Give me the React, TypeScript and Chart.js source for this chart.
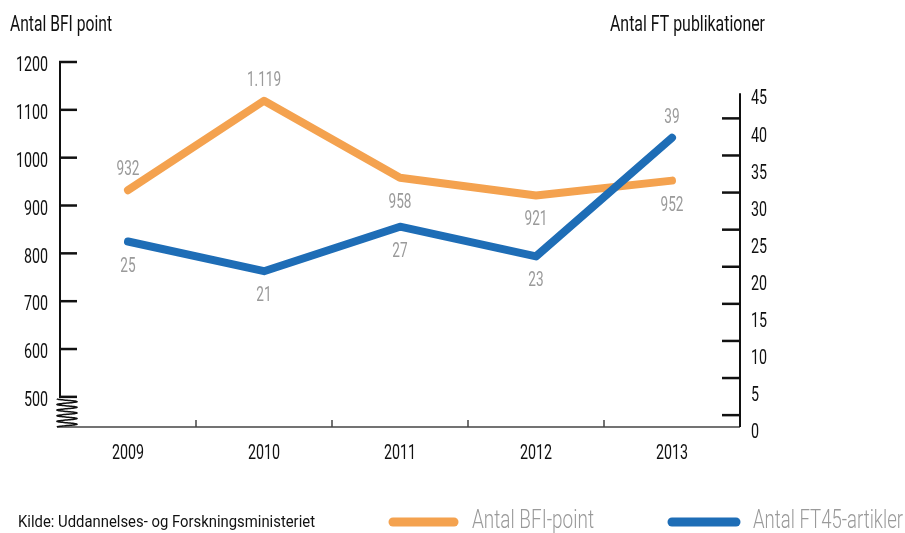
import { useEffect, useRef } from 'react';
import { Chart, registerables } from 'chart.js';

Chart.register(...registerables);

const years = ['2009', '2010', '2011', '2012', '2013'];
const bfiPoints = [932, 1119, 958, 921, 952];
const ft45Articles = [25, 21, 27, 23, 39];
const bfiValueLabels = ['932', '1.119', '958', '921', '952'];
const ftValueLabels = ['25', '21', '27', '23', '39'];
const bfiLabelSide = ['above', 'above', 'below', 'below', 'below'];
const ftLabelSide = ['below', 'below', 'below', 'below', 'above'];
const bfiTicks = [500, 600, 700, 800, 900, 1000, 1100, 1200];
const ftTicks = [0, 5, 10, 15, 20, 25, 30, 35, 40, 45];

const FONT = 'Roboto, "Liberation Sans", sans-serif';
const ORANGE = '#F4A24F';
const BLUE = '#1E6DB6';
const GREY = '#9a9a9a';
const SX = 0.68;

function drawText(
  ctx: CanvasRenderingContext2D,
  str: string,
  x: number,
  y: number,
  size: number,
  align: CanvasTextAlign,
  color: string,
  opts: { width?: number; weight?: number } = {}
) {
  ctx.save();
  ctx.font = `${opts.weight || 400} ${size}px ${FONT}`;
  ctx.fillStyle = color;
  ctx.textBaseline = 'middle';
  ctx.textAlign = align;
  let sx = SX;
  if (opts.width) {
    const w = ctx.measureText(str).width;
    sx = opts.width / w;
  }
  ctx.translate(x, y);
  ctx.scale(sx, 1);
  ctx.fillText(str, 0, 0);
  ctx.restore();
}

const decorPlugin = {
  id: 'decor',
  beforeDatasetsDraw(chart: any) {
    const ctx = chart.ctx;
    const yL = chart.scales.yL;
    const yR = chart.scales.yR;
    const x = chart.scales.x;
    const area = chart.chartArea;
    const bottom = area.bottom;
    ctx.save();
    // bottom axis
    ctx.strokeStyle = '#444';
    ctx.lineWidth = 1.5;
    ctx.beginPath();
    ctx.moveTo(area.left - 3, bottom);
    ctx.lineTo(area.right, bottom);
    ctx.stroke();
    for (let i = 0; i < years.length - 1; i++) {
      const bx = (x.getPixelForValue(i) + x.getPixelForValue(i + 1)) / 2;
      ctx.beginPath();
      ctx.moveTo(bx, bottom);
      ctx.lineTo(bx, bottom - 7);
      ctx.stroke();
    }
    // left axis
    ctx.strokeStyle = '#111';
    ctx.lineWidth = 2;
    const top500 = yL.getPixelForValue(500);
    ctx.beginPath();
    ctx.moveTo(area.left, yL.getPixelForValue(1200));
    ctx.lineTo(area.left, top500);
    ctx.stroke();
    ctx.lineWidth = 2.5;
    bfiTicks.forEach((v) => {
      const ty = yL.getPixelForValue(v);
      ctx.beginPath();
      ctx.moveTo(area.left - 1, ty);
      ctx.lineTo(area.left + 17, ty);
      ctx.stroke();
    });
    // zigzag break
    ctx.lineWidth = 1.5;
    ctx.beginPath();
    const cx = area.left + 7;
    const amp = 10;
    const n = 5;
    const steps = 200;
    for (let s = 0; s <= steps; s++) {
      const t = s / steps;
      const py = top500 + 2 + t * (bottom - top500 - 2);
      const px = cx + amp * Math.cos(2 * Math.PI * n * t + Math.PI);
      if (s === 0) ctx.moveTo(px, py);
      else ctx.lineTo(px, py);
    }
    ctx.stroke();
    // right axis
    ctx.lineWidth = 2;
    ctx.beginPath();
    ctx.moveTo(area.right, yR.getPixelForValue(45));
    ctx.lineTo(area.right, yR.getPixelForValue(0));
    ctx.stroke();
    ctx.lineWidth = 2.5;
    ftTicks.slice(0, -1).forEach((v) => {
      const ty = yR.getPixelForValue(v + 1.6);
      ctx.beginPath();
      ctx.moveTo(area.right - 18, ty);
      ctx.lineTo(area.right + 1, ty);
      ctx.stroke();
    });
    ctx.restore();
  },
  afterDraw(chart: any) {
    const ctx = chart.ctx;
    const yL = chart.scales.yL;
    const yR = chart.scales.yR;
    const x = chart.scales.x;
    const area = chart.chartArea;
    // tick labels
    yL.ticks.forEach((t: any) => {
      drawText(ctx, String(t.value), area.left - 12, yL.getPixelForValue(t.value) + 4, 21, 'right', '#111');
    });
    yR.ticks.forEach((t: any) => {
      drawText(ctx, String(t.value), area.right + 11, yR.getPixelForValue(t.value) + 6, 21, 'left', '#111');
    });
    years.forEach((yr, i) => {
      drawText(ctx, yr, x.getPixelForValue(i), area.bottom + 27, 21, 'center', '#111');
    });
    // axis titles
    drawText(ctx, 'Antal BFI point', 10, 25, 22, 'left', '#111', { width: 102 });
    drawText(ctx, 'Antal FT publikationer', 765, 25, 22, 'right', '#111', { width: 155 });
    // value labels
    const drawLabels = (dsIndex: number, labels: string[], sides: string[]) => {
      const meta = chart.getDatasetMeta(dsIndex);
      meta.data.forEach((pt: any, i: number) => {
        const dy = sides[i] === 'above' ? -20 : 25;
        drawText(ctx, labels[i], pt.x, pt.y + dy, 20, 'center', GREY);
      });
    };
    drawLabels(1, bfiValueLabels, bfiLabelSide);
    drawLabels(0, ftValueLabels, ftLabelSide);
    // source + legend
    const ly = 522;
    drawText(ctx, 'Kilde: Uddannelses- og Forskningsministeriet', 18, ly + 1, 17, 'left', '#111', { width: 297 });
    ctx.save();
    ctx.lineCap = 'round';
    ctx.lineWidth = 9;
    ctx.strokeStyle = ORANGE;
    ctx.beginPath();
    ctx.moveTo(393, ly);
    ctx.lineTo(454, ly);
    ctx.stroke();
    ctx.strokeStyle = BLUE;
    ctx.beginPath();
    ctx.moveTo(672, ly);
    ctx.lineTo(736, ly);
    ctx.stroke();
    ctx.restore();
    drawText(ctx, 'Antal BFI-point', 472, ly, 25, 'left', GREY, { width: 122, weight: 300 });
    drawText(ctx, 'Antal FT45-artikler', 753, ly, 25, 'left', GREY, { width: 150, weight: 300 });
  },
};

export default function App() {
  const ref = useRef<HTMLCanvasElement | null>(null);
  useEffect(() => {
    if (!ref.current) return;
    const chart = new Chart(ref.current, {
      type: 'line',
      data: {
        labels: years,
        datasets: [
          {
            label: 'Antal FT45-artikler',
            data: ft45Articles,
            yAxisID: 'yR',
            borderColor: BLUE,
            backgroundColor: BLUE,
            borderWidth: 8,
            borderCapStyle: 'round',
            borderJoinStyle: 'round',
            pointRadius: 0,
            tension: 0,
            order: 0,
          },
          {
            label: 'Antal BFI-point',
            data: bfiPoints,
            yAxisID: 'yL',
            borderColor: ORANGE,
            backgroundColor: ORANGE,
            borderWidth: 8,
            borderCapStyle: 'round',
            borderJoinStyle: 'round',
            pointRadius: 0,
            tension: 0,
            order: 1,
          },
        ],
      },
      options: {
        animation: false,
        responsive: true,
        maintainAspectRatio: false,
        layout: { padding: { top: 62, left: 0, right: 0, bottom: 0 } },
        plugins: { legend: { display: false }, tooltip: { enabled: false } },
        scales: {
          x: {
            type: 'category',
            offset: true,
            grid: { display: false, drawTicks: false },
            border: { display: false },
            ticks: { display: false },
            afterFit: (s: any) => { s.height = 106; },
          },
          yL: {
            type: 'linear',
            position: 'left',
            min: 437,
            max: 1200,
            grid: { display: false, drawTicks: false },
            border: { display: false },
            afterBuildTicks: (s: any) => { s.ticks = bfiTicks.map((v) => ({ value: v })); },
            ticks: { display: false },
            afterFit: (s: any) => { s.width = 60; },
          },
          yR: {
            type: 'linear',
            position: 'right',
            min: 0,
            max: 49.2,
            grid: { display: false, drawTicks: false },
            border: { display: false },
            afterBuildTicks: (s: any) => { s.ticks = ftTicks.map((v) => ({ value: v })); },
            ticks: { display: false },
            afterFit: (s: any) => { s.width = 165; },
          },
        },
      },
      plugins: [decorPlugin],
    } as any);
    return () => chart.destroy();
  }, []);
  return (
    <div style={{ position: 'absolute', left: 0, top: 0, width: 905, height: 533, background: '#fff' }}>
      <canvas ref={ref} />
    </div>
  );
}
